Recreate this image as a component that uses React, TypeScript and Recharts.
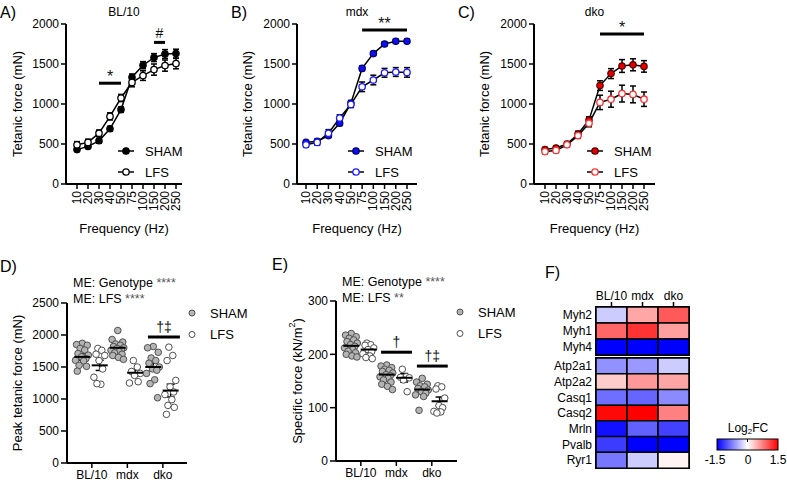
import React from 'react';
import {
  LineChart, Line, XAxis, YAxis, ErrorBar, ReferenceLine, Legend,
  ScatterChart, Scatter, BarChart, Bar, Cell, ReferenceArea,
} from 'recharts';

const FONT = 'Arial, "Liberation Sans", Helvetica, sans-serif';

// ---- A-C: force-frequency ----
const frequencies = ['10', '20', '30', '40', '50', '75', '100', '150', '200', '250'];

const bl10Sham = [430, 470, 540, 690, 930, 1335, 1485, 1580, 1625, 1630];
const bl10ShamSem = [25, 25, 30, 30, 35, 40, 45, 50, 55, 55];
const bl10Lfs = [490, 520, 635, 845, 1075, 1270, 1355, 1430, 1480, 1505];
const bl10LfsSem = [40, 40, 40, 45, 45, 55, 60, 70, 70, 65];

const mdxSham = [520, 535, 605, 760, 1010, 1445, 1630, 1750, 1785, 1785];
const mdxShamSem = [20, 25, 25, 30, 35, 30, 25, 25, 25, 25];
const mdxLfs = [490, 520, 635, 825, 995, 1215, 1300, 1390, 1400, 1395];
const mdxLfsSem = [25, 35, 45, 40, 40, 60, 60, 55, 55, 60];

const dkoSham = [430, 450, 500, 625, 800, 1230, 1380, 1475, 1490, 1470];
const dkoShamSem = [25, 25, 30, 35, 40, 60, 62, 80, 75, 72];
const dkoLfs = [405, 420, 490, 605, 760, 1020, 1060, 1130, 1120, 1060];
const dkoLfsSem = [25, 25, 30, 35, 45, 90, 100, 105, 105, 90];

// ---- D-E: per-animal values ----
const genotypes = ['BL/10', 'mdx', 'dko'];

const peakSham = [
  [1870, 1850, 1840, 1790, 1765, 1710, 1685, 1660, 1630, 1605, 1595, 1525, 1510, 1435],
  [2070, 1930, 1890, 1860, 1840, 1820, 1800, 1790, 1770, 1760, 1740, 1720, 1700, 1680, 1650, 1620],
  [1820, 1800, 1730, 1640, 1600, 1560, 1500, 1470, 1450, 1400, 1300, 1240, 1020],
];
const peakLfs = [
  [1790, 1760, 1700, 1680, 1600, 1470, 1340, 1230, 1240],
  [1600, 1500, 1430, 1400, 1370, 1270, 1250],
  [1810, 1680, 1600, 1290, 1190, 1110, 1070, 990, 900, 870, 760],
];
const peakShamMean = [1658, 1800, 1500];
const peakShamSem = [50, 40, 60];
const peakLfsMean = [1526, 1410, 1132];
const peakLfsSem = [80, 45, 100];

const specSham = [
  [239, 236, 233, 230, 227, 224, 221, 218, 215, 212, 209, 206, 203, 200, 197, 195],
  [180, 178, 175, 172, 170, 168, 165, 162, 160, 158, 155, 152, 148, 144, 140, 134],
  [155, 148, 144, 141, 139, 136, 133, 130, 127, 124, 121, 95],
];
const specLfs = [
  [221, 218, 217, 212, 209, 205, 201, 197, 194, 192],
  [172, 158, 157, 156, 152, 130],
  [141, 139, 135, 118, 104, 100, 93, 92, 90],
];
const specShamMean = [216, 162, 134];
const specShamSem = [6, 5, 5];
const specLfsMean = [209, 156, 112];
const specLfsSem = [5, 8, 8];

// ---- F: heatmap (Log2FC) ----
const genesTop = ['Myh2', 'Myh1', 'Myh4'];
const genesBottom = ['Atp2a1', 'Atp2a2', 'Casq1', 'Casq2', 'Mrln', 'Pvalb', 'Ryr1'];
const fcBl10 = [-0.3, 0.9, -1.5, -0.65, 0.3, -0.85, 1.45, -1.4, -1.15, -0.8];
const fcMdx = [0.52, 1.2, -1.5, -0.6, 0.6, -0.9, 1.5, -0.93, -1.5, -0.3];
const fcDko = [0.97, 0.56, -1.5, -0.3, 0.53, -0.68, 0.75, -1.12, -1.5, 0.07];

const axisLine = { stroke: '#000', strokeWidth: 2 };
const tickLine = { stroke: '#000', strokeWidth: 1.5 };
const tickFont = { fontSize: 12, fill: '#000', fontFamily: FONT };

const jitter = [0, -0.16, 0.14, -0.06, 0.07, -0.12, 0.17, -0.02, 0.1, -0.19, 0.04, -0.09, 0.12, -0.14, 0.02, 0.16];

const yTitle = (text: React.ReactNode, dx: number) => (props: any) => {
  const vb = props.viewBox || { x: 0, y: 0, width: 0, height: 0 };
  const x = vb.x + dx;
  const y = vb.y + vb.height / 2;
  return (
    <text x={x} y={y} transform={`rotate(-90 ${x} ${y})`} textAnchor="middle" dominantBaseline="central"
      fontSize={13} fontFamily={FONT} fill="#000">{text}</text>
  );
};

const xTitle = (text: string, dy: number) => (props: any) => {
  const vb = props.viewBox || { x: 0, y: 0, width: 0, height: 0 };
  return (
    <text x={vb.x + vb.width / 2} y={vb.y + dy} textAnchor="middle" dominantBaseline="central"
      fontSize={13} fontFamily={FONT} fill="#000">{text}</text>
  );
};

// text above a significance bar
const sigLabel = (text: string, size: number, gap: number) => (props: any) => {
  const vb = props.viewBox || { x: 0, y: 0, width: 0, height: 0 };
  return (
    <text x={vb.x + vb.width / 2} y={vb.y - gap} textAnchor="middle" fontSize={size} fontFamily={FONT}
      fill="#111" stroke="none">{text}</text>
  );
};

const FreqTick = (p: any) => (
  <text x={p.x} y={p.y} transform={`rotate(-90 ${p.x} ${p.y})`} textAnchor="end" dominantBaseline="central"
    fontSize={12} fontFamily={FONT} fill="#000">{p.payload.value}</text>
);

function LineLegend({ fill, stroke, lfsStroke }: any) {
  const rows = [['SHAM', fill, stroke], ['LFS', '#fff', lfsStroke]];
  return (
    <svg width={80} height={45}>
      {rows.map(([name, f, s], i) => (
        <g key={name} transform={`translate(0, ${12 + i * 21})`}>
          <line x1={0} x2={16} y1={0} y2={0} stroke="#000" strokeWidth={1.5} />
          <circle cx={8} cy={0} r={3.2} fill={f} stroke={s} strokeWidth={1.3} />
          <text x={27} y={0} dominantBaseline="central" fontSize={13} fontFamily={FONT} fill="#000">{name}</text>
        </g>
      ))}
    </svg>
  );
}

function LinePanel(props: any) {
  const { left, title, sham, shamSem, lfs, lfsSem, fill, stroke, lfsStroke, sigs, axisWidth, rightMargin, pad, legendLeft } = props;
  const data = frequencies.map((f, i) => ({ f, sham: sham[i], shamErr: shamSem[i], lfs: lfs[i], lfsErr: lfsSem[i] }));
  const W = 260;
  return (
    <div style={{ position: 'absolute', left, top: 0, width: W, height: 240 }}>
      <div style={{ position: 'absolute', left: axisWidth, width: W - rightMargin - axisWidth, top: 5, textAlign: 'center', fontSize: 12, lineHeight: '15px' }}>{title}</div>
      <LineChart width={W} height={240} data={data} margin={{ top: 24, right: rightMargin, bottom: 0, left: 0 }}>
        <XAxis dataKey="f" height={56} padding={pad} interval={0} tick={FreqTick} tickSize={5} tickMargin={2}
          axisLine={axisLine} tickLine={tickLine} label={{ content: xTitle('Frequency (Hz)', 44) }} />
        <YAxis width={axisWidth} domain={[0, 2000]} ticks={[0, 500, 1000, 1500, 2000]} tick={tickFont}
          tickSize={5} tickMargin={2} axisLine={axisLine} tickLine={tickLine}
          label={{ content: yTitle('Tetanic force (mN)', 17) }} />
        {sigs.map((s: any, i: number) => (
          <ReferenceLine key={i} segment={[{ x: s.from, y: s.y }, { x: s.to, y: s.y }]} stroke="#000" strokeWidth={3}
            ifOverflow="visible" label={{ content: sigLabel(s.text, s.size, s.offset) }} />
        ))}
        <Line dataKey="sham" name="SHAM" stroke="#000" strokeWidth={1.5} isAnimationActive={false}
          dot={{ r: 3.2, fill, stroke, strokeWidth: 1.2 }}>
          <ErrorBar dataKey="shamErr" width={3} stroke="#000" strokeWidth={1.5} />
        </Line>
        <Line dataKey="lfs" name="LFS" stroke="#000" strokeWidth={1.5} isAnimationActive={false}
          dot={{ r: 3.2, fill: '#fff', stroke: lfsStroke, strokeWidth: 1.3 }}>
          <ErrorBar dataKey="lfsErr" width={3} stroke="#000" strokeWidth={1.5} />
        </Line>
        <Legend layout="vertical" align="center" verticalAlign="middle"
          wrapperStyle={{ left: legendLeft, top: 139, width: 80 }}
          content={() => <LineLegend fill={fill} stroke={stroke} lfsStroke={lfsStroke} />} />
      </LineChart>
    </div>
  );
}

function ScatterLegend() {
  return (
    <svg width={70} height={40}>
      {[['SHAM', '#b4b4b4'], ['LFS', '#fff']].map(([name, f], i) => (
        <g key={name} transform={`translate(0, ${12 + i * 21.5})`}>
          <circle cx={4} cy={0} r={3} fill={f} stroke="#505050" strokeWidth={1} />
          <text x={22} y={0} dominantBaseline="central" fontSize={13} fontFamily={FONT} fill="#000">{name}</text>
        </g>
      ))}
    </svg>
  );
}

const SHAM_OFF = -0.27;
const LFS_OFF = 0.22;

function ScatterPanel(props: any) {
  const { left, axisWidth, marginTop, xHeight, rightMargin, xMax, yMax, yTicks, shamVals, lfsVals,
    shamMean, shamSem, lfsMean, lfsSem, sigs, title, titleDx, legendLeft, legendTop } = props;
  const shamPts = shamVals.flatMap((vals: number[], g: number) => vals.map((v, i) => ({ x: g + SHAM_OFF + jitter[i % jitter.length], y: v })));
  const lfsPts = lfsVals.flatMap((vals: number[], g: number) => vals.map((v, i) => ({ x: g + LFS_OFF + jitter[(i + 3) % jitter.length] * 0.85, y: v })));
  const means = genotypes.flatMap((_, g) => [
    { x: g + SHAM_OFF, y: shamMean[g], err: shamSem[g] },
    { x: g + LFS_OFF, y: lfsMean[g], err: lfsSem[g] },
  ]);
  const W = 265;
  const H = 242;
  return (
    <div style={{ position: 'absolute', left, top: 240, width: W, height: H }}>
      <ScatterChart width={W} height={H} margin={{ top: marginTop, right: rightMargin, bottom: 0, left: 0 }}>
        <XAxis type="number" dataKey="x" domain={[-0.7, xMax]} ticks={[0, 1, 2]} allowDataOverflow interval={0}
          tickFormatter={(v: number) => genotypes[v]} height={xHeight} tick={tickFont} tickSize={5} tickMargin={2}
          axisLine={axisLine} tickLine={tickLine} />
        <YAxis type="number" dataKey="y" domain={[0, yMax]} ticks={yTicks} width={axisWidth} tick={tickFont}
          tickSize={6} tickMargin={2} axisLine={axisLine} tickLine={tickLine} interval={0}
          label={{ content: yTitle(title, titleDx) }} />
        {sigs.map((s: any, i: number) => (
          <ReferenceLine key={i} segment={[{ x: s.from, y: s.y }, { x: s.to, y: s.y }]} stroke="#000" strokeWidth={3}
            ifOverflow="visible" label={{ content: sigLabel(s.text, 14, 5) }} />
        ))}
        <Scatter name="SHAM" data={shamPts} isAnimationActive={false}
          shape={(p: any) => <circle cx={p.cx} cy={p.cy} r={3.3} fill="#b4b4b4" stroke="#505050" strokeWidth={1} />} />
        <Scatter name="LFS" data={lfsPts} isAnimationActive={false}
          shape={(p: any) => <circle cx={p.cx} cy={p.cy} r={3.3} fill="#fff" stroke="#505050" strokeWidth={1} />} />
        <Scatter name="mean" data={means} isAnimationActive={false}
          shape={(p: any) => <line x1={p.cx - 8} x2={p.cx + 8} y1={p.cy} y2={p.cy} stroke="#000" strokeWidth={2} />}>
          <ErrorBar dataKey="err" direction="y" width={4} stroke="#000" strokeWidth={1.5} />
        </Scatter>
        <Legend layout="vertical" align="center" verticalAlign="middle"
          wrapperStyle={{ left: legendLeft, top: legendTop, width: 70 }} content={() => <ScatterLegend />} />
      </ScatterChart>
    </div>
  );
}

const fcColor = (v: number) => {
  const t = Math.min(1, Math.abs(v) / 1.5);
  const c = Math.round(255 * (1 - t));
  return v < 0 ? `rgb(${c},${c},255)` : `rgb(255,${c},${c})`;
};

function HeatBlock({ top, height, genes, offset, showTop, marginTop }: any) {
  const rows = genes.map((gene: string, i: number) => ({
    gene, bl10: fcBl10[offset + i], mdx: fcMdx[offset + i], dko: fcDko[offset + i], w0: 1, w1: 1, w2: 1,
  }));
  const cols = ['bl10', 'mdx', 'dko'];
  return (
    <div style={{ position: 'absolute', left: 530, top, width: 170, height }}>
      <BarChart layout="vertical" width={170} height={height} data={rows} barCategoryGap={0}
        margin={{ top: marginTop, right: 11, bottom: 5, left: 0 }}>
        <XAxis type="number" domain={[0, 3]} orientation="top" hide={!showTop} ticks={[0.5, 1.5, 2.5]} interval={0}
          tickFormatter={(v: number) => genotypes[Math.floor(v)]} height={27} axisLine={false}
          tickSize={5} tickMargin={2} tickLine={tickLine} tick={tickFont} />
        <YAxis type="category" dataKey="gene" width={66} axisLine={false} tickLine={false} tickSize={0}
          tickMargin={4} tick={tickFont} interval={0} />
        {cols.map((k, ci) => (
          <Bar key={k} dataKey={`w${ci}`} stackId="h" isAnimationActive={false} stroke="#000" strokeWidth={1.5}>
            {rows.map((r: any, i: number) => <Cell key={i} fill={fcColor(r[k])} />)}
          </Bar>
        ))}
        <ReferenceArea x1={0} x2={3} fill="none" fillOpacity={0} stroke="#000" strokeWidth={2} ifOverflow="visible" />
      </BarChart>
    </div>
  );
}

function ColorBar() {
  return (
    <svg width={87} height={52} style={{ position: 'absolute', left: 700, top: 418 }}>
      <defs>
        <linearGradient id="fcGrad" x1="0" x2="1" y1="0" y2="0">
          <stop offset="0" stopColor="#0000ff" />
          <stop offset="0.5" stopColor="#ffffff" />
          <stop offset="1" stopColor="#ff0000" />
        </linearGradient>
      </defs>
      <text x={48} y={10} textAnchor="middle" dominantBaseline="central" fontSize={12} fontFamily={FONT}>
        Log<tspan fontSize={8} dy={3}>2</tspan><tspan dy={-3}>FC</tspan>
      </text>
      <rect x={17} y={21} width={61} height={11} fill="url(#fcGrad)" stroke="#000" strokeWidth={1} />
      <line x1={47.5} x2={47.5} y1={21} y2={24} stroke="#000" strokeWidth={1} />
      <text x={15} y={42} textAnchor="middle" dominantBaseline="central" fontSize={12} fontFamily={FONT}>-1.5</text>
      <text x={48} y={42} textAnchor="middle" dominantBaseline="central" fontSize={12} fontFamily={FONT}>0</text>
      <text x={78} y={42} textAnchor="middle" dominantBaseline="central" fontSize={12} fontFamily={FONT}>1.5</text>
    </svg>
  );
}

const letter = (text: string, left: number, top: number) => (
  <div style={{ position: 'absolute', left, top, fontSize: 16, lineHeight: '20px' }}>{text}</div>
);

export default function App() {
  return (
    <div style={{ position: 'absolute', left: 0, top: 0, width: 787, height: 482, background: '#fff', overflow: 'hidden', fontFamily: FONT, color: '#000' }}>
      <LinePanel left={0} title="BL/10" sham={bl10Sham} shamSem={bl10ShamSem} lfs={bl10Lfs} lfsSem={bl10LfsSem}
        fill="#000" stroke="#000" lfsStroke="#000" axisWidth={66} rightMargin={78} pad={{ left: 11, right: 6 }} legendLeft={118}
        sigs={[{ from: '30', to: '50', y: 1260, text: '*', size: 16, offset: 1 }, { from: '150', to: '200', y: 1770, text: '#', size: 14, offset: 4 }]} />
      <LinePanel left={230} title="mdx" sham={mdxSham} shamSem={mdxShamSem} lfs={mdxLfs} lfsSem={mdxLfsSem}
        fill="#1010e8" stroke="#00007a" lfsStroke="#1a1aff" axisWidth={67} rightMargin={73} pad={{ left: 9, right: 10 }} legendLeft={118}
        sigs={[{ from: '75', to: '250', y: 1925, text: '**', size: 16, offset: 1 }]} />
      <LinePanel left={467} title="dko" sham={dkoSham} shamSem={dkoShamSem} lfs={dkoLfs} lfsSem={dkoLfsSem}
        fill="#e00000" stroke="#5a0000" lfsStroke="#ff3030" axisWidth={67} rightMargin={72} pad={{ left: 11, right: 11 }} legendLeft={120}
        sigs={[{ from: '75', to: '250', y: 1875, text: '*', size: 16, offset: 1 }]} />
      {letter('A)', 0, 3)}
      {letter('B)', 231, 3)}
      {letter('C)', 458, 3)}

      <ScatterPanel left={0} axisWidth={67} marginTop={63} xHeight={19} rightMargin={78} xMax={2.68}
        yMax={2500} yTicks={[0, 500, 1000, 1500, 2000, 2500]} shamVals={peakSham} lfsVals={peakLfs}
        shamMean={peakShamMean} shamSem={peakShamSem} lfsMean={peakLfsMean} lfsSem={peakLfsSem}
        sigs={[{ from: 1.58, to: 2.48, y: 1970, text: '†‡' }]} title="Peak tetanic force (mN)" titleDx={17}
        legendLeft={188} legendTop={61} />
      <ScatterPanel left={265} axisWidth={71} marginTop={61} xHeight={21} rightMargin={73} xMax={2.71}
        yMax={300} yTicks={[0, 100, 200, 300]} shamVals={specSham} lfsVals={specLfs}
        shamMean={specShamMean} shamSem={specShamSem} lfsMean={specLfsMean} lfsSem={specLfsSem}
        sigs={[{ from: 0.57, to: 1.44, y: 204, text: '†' }, { from: 1.58, to: 2.45, y: 178, text: '†‡' }]}
        title={<>Specific force (kN/m<tspan fontSize={9} dy={-5}>2</tspan><tspan dy={5}>)</tspan></>} titleDx={32}
        legendLeft={191} legendTop={60} />
      {letter('D)', 0, 257)}
      {letter('E)', 272, 255)}
      <div style={{ position: 'absolute', left: 73, top: 275, fontSize: 12.5, lineHeight: '16px' }}>
        <div>ME: Genotype <span style={{ color: '#555' }}>****</span></div>
        <div>ME: LFS <span style={{ color: '#555' }}>****</span></div>
      </div>
      <div style={{ position: 'absolute', left: 342, top: 274, fontSize: 12.5, lineHeight: '16px' }}>
        <div>ME: Genotype <span style={{ color: '#555' }}>****</span></div>
        <div>ME: LFS <span style={{ color: '#555' }}>**</span></div>
      </div>

      {letter('F)', 545, 263)}
      <HeatBlock top={280} height={80} genes={genesTop} offset={0} showTop marginTop={0} />
      <HeatBlock top={355} height={118} genes={genesBottom} offset={3} showTop={false} marginTop={3} />
      <ColorBar />
    </div>
  );
}
